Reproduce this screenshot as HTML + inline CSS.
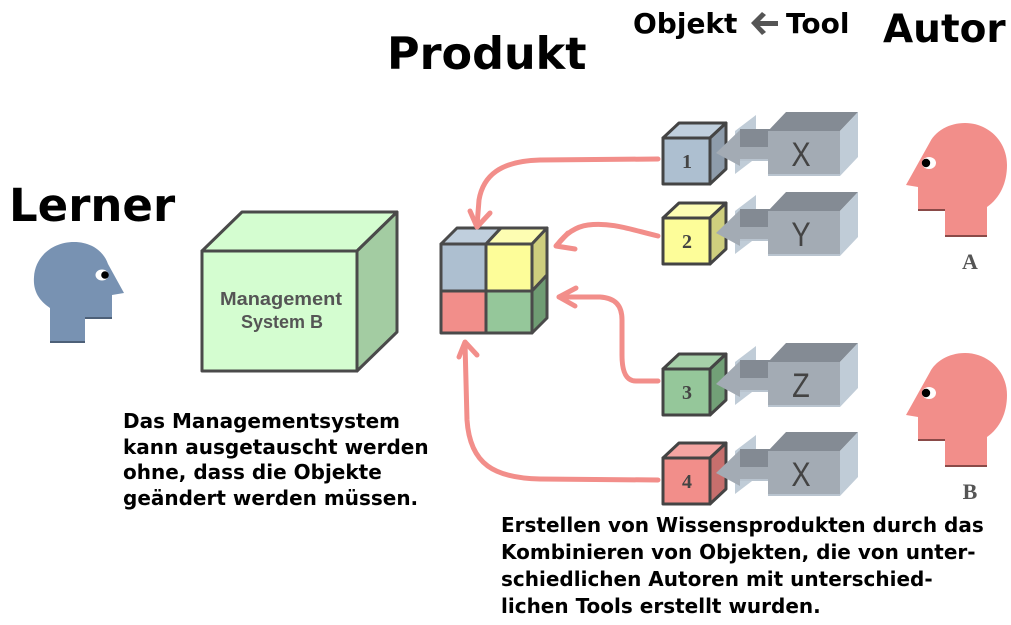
<!DOCTYPE html>
<html><head><meta charset="utf-8"><style>
html,body{margin:0;padding:0;background:#fff;}
svg{display:block;}
.t{font-family:"DejaVu Sans","Liberation Sans",sans-serif;font-weight:bold;fill:#000;}
</style></head><body>
<svg width="1011" height="625" viewBox="0 0 1011 625" xmlns="http://www.w3.org/2000/svg">
<!-- headings -->
<text class="t" x="9" y="221" font-size="45">Lerner</text>
<text class="t" x="387" y="69" font-size="44.5">Produkt</text>
<text class="t" x="633" y="33" font-size="28">Objekt</text>
<polygon points="751,23 762,12 766,15 760,21 778,21 778,26 760,26 766,32 762,35" fill="#555"/>
<text class="t" x="786" y="33" font-size="28">Tool</text>
<text class="t" x="883" y="42" font-size="39">Autor</text>

<!-- Lerner head -->
<path d="M50,342 L50,308 C38,300 33,290 34,277 C35,257 52,242 74,242 C92,242 104,252 108,264 L124,293 L112,295 L112,318 L85,318 L85,342 Z" fill="#7892b2"/>
<path d="M50,342 L85,342 M85,318 L112,318" stroke="#4d6078" stroke-width="2" fill="none"/>
<ellipse cx="102" cy="275" rx="6.5" ry="5.5" fill="#fff"/>
<circle cx="105" cy="275" r="3.8" fill="#000"/>

<!-- Management cube -->
<g stroke="#4a4a4a" stroke-width="3" stroke-linejoin="round">
<polygon points="202,251 357,251 397,212 242,212" fill="#d4fdd0"/>
<polygon points="357,251 397,212 397,332 357,371" fill="#a3cca2"/>
<rect x="202" y="251" width="155" height="120" fill="#d4fdd0"/>
</g>
<text x="281" y="305" font-family="Liberation Sans,sans-serif" font-weight="bold" font-size="18" fill="#555" text-anchor="middle" textLength="122" lengthAdjust="spacingAndGlyphs">Management</text>
<text x="282" y="328" font-family="Liberation Sans,sans-serif" font-weight="bold" font-size="18" fill="#555" text-anchor="middle" textLength="82" lengthAdjust="spacingAndGlyphs">System B</text>

<!-- Product cube -->
<g stroke="#4a4a4a" stroke-width="3" stroke-linejoin="round">
<polygon points="441,244 486,244 501,228 457,228" fill="#c0cfdd"/>
<polygon points="486,244 532,244 547,228 501,228" fill="#fdfdb2"/>
<polygon points="532,244 547,228 547,275 532,291" fill="#cece7e"/>
<polygon points="532,291 547,275 547,318 532,333" fill="#6f9c73"/>
<rect x="441" y="244" width="45" height="47" fill="#adbfd0"/>
<rect x="486" y="244" width="46" height="47" fill="#fdfd99"/>
<rect x="441" y="291" width="45" height="42" fill="#f28e8a"/>
<rect x="486" y="291" width="46" height="42" fill="#95c79a"/>
</g>

<!-- red arrows -->
<g stroke="#f28e8a" stroke-width="5" fill="none" stroke-linecap="round" stroke-linejoin="round">
<path d="M658,159 L540,160 C500,161 483,176 479,200 L477,226"/>
<polyline points="470,211 477,227 490,213"/>
<path d="M658,236 C632,230 612,222 588,225 C573,227 563,237 557,245"/>
<polyline points="568,233 556,246 575,249"/>
<path d="M658,381 L636,381 C626,381 622,372 622,355 L622,320 C622,305 615,298 600,297 L559,297"/>
<polyline points="576,288 559,297 575,306"/>
<path d="M658,480 L540,479 C495,478 470,465 467,420 L465,343"/>
<polyline points="459,357 465,342 477,355"/>
</g>

<!-- small cubes + tools -->
<defs>
<g id="tool">
<polygon points="735,131 756,115 756,158 735,174" fill="#c0ccd7"/>
<rect x="740" y="129" width="30" height="18" fill="#838a93"/>
<rect x="738" y="147" width="32" height="14" fill="#a3abb4"/>
<rect x="738" y="159" width="32" height="2" fill="#b9c4cf"/>
<polygon points="716,153 740,130 740,166" fill="#a3abb4"/>
<polygon points="768,131 840,131 858,112 786,112" fill="#848b94"/>
<polygon points="840,131 858,112 858,157 840,176" fill="#c0ccd7"/>
<rect x="768" y="131" width="72" height="45" fill="#a3abb4"/>
<rect x="768" y="174" width="72" height="2" fill="#b9c4cf"/>
</g>
</defs>

<g stroke="#444" stroke-width="3" stroke-linejoin="round">
<polygon points="663,138 710,138 726,123 679,123" fill="#c0cfdd"/>
<polygon points="710,138 726,123 726,169 710,184" fill="#8e9cab"/>
<rect x="663" y="138" width="47" height="46" fill="#adbfd0"/>

<polygon points="663,218 710,218 726,203 679,203" fill="#fdfdb4"/>
<polygon points="710,218 726,203 726,249 710,264" fill="#cfcf7e"/>
<rect x="663" y="218" width="47" height="46" fill="#fdfd99"/>

<polygon points="663,369 710,369 726,354 679,354" fill="#a6d1a9"/>
<polygon points="710,369 726,354 726,400 710,415" fill="#72a077"/>
<rect x="663" y="369" width="47" height="46" fill="#95c79a"/>

<polygon points="663,458 710,458 726,443 679,443" fill="#f5a5a2"/>
<polygon points="710,458 726,443 726,489 710,504" fill="#c76f6d"/>
<rect x="663" y="458" width="47" height="46" fill="#f28e8a"/>
</g>

<use href="#tool"/>
<use href="#tool" transform="translate(0,80)"/>
<use href="#tool" transform="translate(0,231)"/>
<use href="#tool" transform="translate(0,320)"/>

<g font-family="Liberation Serif,serif" font-weight="bold" font-size="20" fill="#444" text-anchor="middle">
<text x="687" y="168">1</text>
<text x="687" y="248">2</text>
<text x="687" y="399">3</text>
<text x="687" y="488">4</text>
</g>
<g font-family="Liberation Sans,sans-serif" font-size="34" fill="#444" text-anchor="middle">
<text x="801" y="166" transform="translate(801,0) scale(0.85,1) translate(-801,0)">X</text>
<text x="801" y="246" transform="translate(801,0) scale(0.85,1) translate(-801,0)">Y</text>
<text x="801" y="397" transform="translate(801,0) scale(0.85,1) translate(-801,0)">Z</text>
<text x="801" y="486" transform="translate(801,0) scale(0.85,1) translate(-801,0)">X</text>
</g>

<!-- Author heads -->
<g id="headA">
<path d="M987,236 L987,207 C1000,198 1007,183 1007,165 C1007,141 988,123 965,123 C948,123 935,132 930,142 L906,185 L918,187 L918,210 L945,210 L945,236 Z" fill="#f28e8a"/>
<path d="M945,236 L987,236 M918,210 L945,210" stroke="#8a4a48" stroke-width="2" fill="none"/>
<ellipse cx="929" cy="163" rx="7" ry="6" fill="#fff"/>
<circle cx="926" cy="163" r="4.2" fill="#000"/>
</g>
<use href="#headA" transform="translate(0,230)"/>
<text x="970" y="269" font-family="Liberation Serif,serif" font-weight="bold" font-size="22" fill="#555" text-anchor="middle">A</text>
<text x="970" y="499" font-family="Liberation Serif,serif" font-weight="bold" font-size="22" fill="#555" text-anchor="middle">B</text>

<!-- paragraphs -->
<text class="t" font-size="20">
<tspan x="123" y="428">Das Managementsystem</tspan>
<tspan x="123" y="454">kann ausgetauscht werden</tspan>
<tspan x="123" y="479">ohne, dass die Objekte</tspan>
<tspan x="123" y="505">geändert werden müssen.</tspan>
</text>
<text class="t" font-size="20">
<tspan x="501" y="532">Erstellen von Wissensprodukten durch das</tspan>
<tspan x="501" y="559">Kombinieren von Objekten, die von unter-</tspan>
<tspan x="501" y="586">schiedlichen Autoren mit unterschied-</tspan>
<tspan x="501" y="613">lichen Tools erstellt wurden.</tspan>
</text>
</svg>
</body></html>
